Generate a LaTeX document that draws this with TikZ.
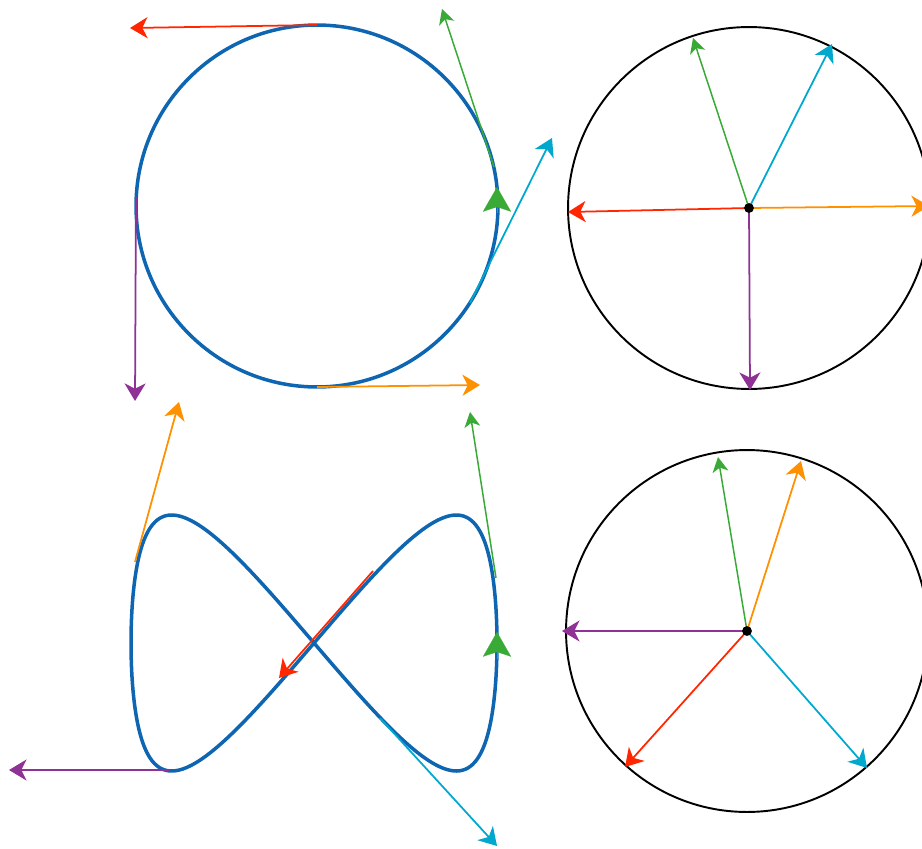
\documentclass[tikz,border=0pt]{standalone}
\usetikzlibrary{arrows.meta}
\definecolor{curveblue}{RGB}{14,102,178}
\definecolor{vred}{RGB}{255,38,0}
\definecolor{vorange}{RGB}{255,145,0}
\definecolor{vgreen}{RGB}{58,170,55}
\definecolor{vcyan}{RGB}{0,168,206}
\definecolor{vpurple}{RGB}{142,50,150}
\begin{document}
\begin{tikzpicture}[x=0.02cm,y=-0.02cm,
  curve/.style={curveblue,line width=2pt},
  ring/.style={black,line width=1.1pt},
  vec/.style={line width=1pt,-{Stealth[length=10pt,width=12pt,inset=3pt]}},
  thinvec/.style={line width=0.85pt,-{Stealth[length=8.5pt,width=9pt,inset=2.4pt]}},
  dirmark/.style={vgreen,line width=0.1pt,-{Stealth[length=14pt,width=16pt,inset=2.6pt]}}]
  \useasboundingbox (0,0) rectangle (922,848);
  \clip (0,0) rectangle (922,848);
  % path 1: circle and its tangent vectors
  \draw[curve] (317,206) circle[radius=3.62cm];
  \draw[dirmark] (497,213) -- (497,187);
  \draw[vec,vred] (317,25) -- (130,28);
  \draw[thinvec,vgreen] (494,167) -- (442,9);
  \draw[vec,vcyan] (470,303) -- (552,138);
  \draw[vec,vpurple] (136,197) -- (135,401);
  \draw[vec,vorange] (317,387) -- (480,385);
  % hodograph 1
  \coordinate (hA) at (749,208);
  \draw[ring] (hA) circle[radius=3.62cm];
  \draw[vec,vred] (hA) -- (568,212);
  \draw[vec,vorange] (hA) -- (929,206);
  \draw[vec,vpurple] (hA) -- (750,390);
  \draw[thinvec,vgreen] (hA) -- (693,38);
  \draw[vec,vcyan] (hA) -- (832,44);
  \fill[black] (hA) circle (2.8pt);
  % path 2: figure eight and its tangent vectors
  \draw[curve] plot[domain=0:360,samples=240,variable=\t,smooth]
    ({314+183*(1.05*sin(\t)+0.05*sin(3*\t))},{643+128*sin(2*\t)});
  \draw[dirmark] (497,659) -- (497,632);
  \draw[vec,vorange] (135,562) -- (179,402);
  \draw[thinvec,vgreen] (496,578) -- (470,412);
  \draw[vec,vred] (373,571) -- (279,678);
  \draw[vec,vcyan] (380,718) -- (497,846);
  \draw[vec,vpurple] (170,770) -- (9,770);
  % hodograph 2
  \coordinate (hB) at (747,631);
  \draw[ring] (hB) circle[radius=3.62cm];
  \draw[vec,vpurple] (hB) -- (562,631);
  \draw[thinvec,vgreen] (hB) -- (718,457);
  \draw[vec,vorange] (hB) -- (801,461);
  \draw[vec,vred] (hB) -- (625,767);
  \draw[vec,vcyan] (hB) -- (867,768);
  \fill[black] (hB) circle (2.8pt);
\end{tikzpicture}
\end{document}
